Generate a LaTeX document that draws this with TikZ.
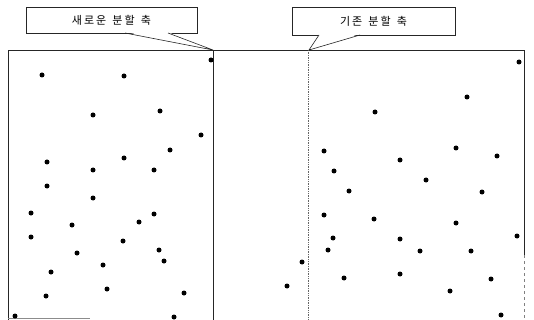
\documentclass[tikz,border=0pt]{standalone}
\usepackage{fontspec}
\newfontfamily\krfont[LetterSpace=18,WordSpace=1.4]{Noto Sans CJK KR}
\begin{document}
\begin{tikzpicture}[x=1pt,y=-1pt,
  frameline/.style={draw=black!85,line width=0.8pt},
  callbox/.style={draw=black!85,line width=0.6pt,fill=white,minimum width=171pt,minimum height=26pt,inner sep=0pt,font=\krfont\fontsize{11}{13}\selectfont},
  pt/.style={fill=black}]
\useasboundingbox (0,0) rectangle (534,320);
% frames
\draw[frameline] (8,320) -- (8,50) -- (524,50) -- (524,255);
\draw[frameline,dashed,draw=black!50] (524,255) -- (524,320);
\draw[frameline] (213,50) -- (213,320);
\draw[draw=black!45,line width=0.6pt] (8,318) -- (90,318);
\draw[draw=black!60,line width=0.7pt,densely dotted] (308,50) -- (308,320);
% callouts
\node[callbox] (newaxis) at (111.5,20) {새로운 분할 축};
\node[callbox,minimum width=163pt,minimum height=28pt] (oldaxis) at (373.5,21) {기존 분할 축};
\coordinate (newtip) at (213,50);
\coordinate (oldtip) at (309,50);
\fill[white] (125.5,32) -- (newtip) -- (167.5,32) -- cycle;
\draw[black!85,line width=0.6pt] (125,33) -- (newtip) -- (168,33);
\fill[white] (319.5,34) -- (oldtip) -- (359.5,34) -- cycle;
\draw[black!85,line width=0.6pt] (319,35) -- (oldtip) -- (360,35);
% left dots
\foreach \p in {(42,75),(124,76),(211,60),(93,115),(160,111),(201,135),(170,150),(47,162),(124,158),(93,170),(154,170),(47,186),(93,198),(31,213),(154,214),(72,225),(139,222),(31,237),(123,241),(159,250),(77,253),(164,261),(103,265),(51,272),(107,289),(184,293),(46,296),(15,316),(174,317)}
  \fill[pt] \p circle (2.5);
% right dots
\foreach \p in {(519,62),(467,97),(375,112),(324,151),(456,148),(400,160),(497,156),(334,171),(426,180),(349,191),(482,192),(324,215),(374,219),(456,223),(517,236),(333,238),(400,239),(328,250),(420,251),(471,251),(302,262),(344,278),(400,274),(491,279),(287,286),(450,291),(501,315)}
  \fill[pt] \p circle (2.5);
\end{tikzpicture}
\end{document}
